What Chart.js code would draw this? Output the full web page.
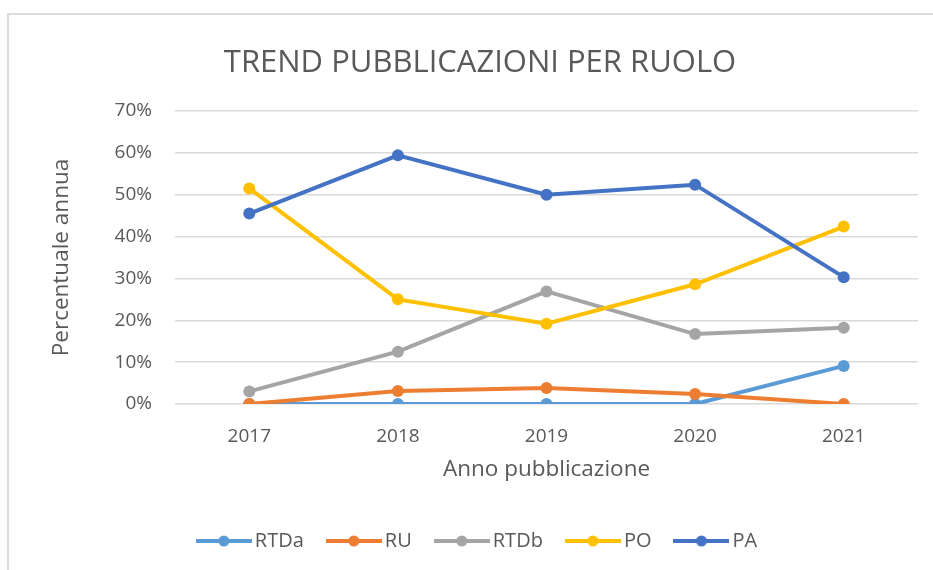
<!DOCTYPE html>
<html lang="it">
<head>
<meta charset="utf-8">
<title>Trend pubblicazioni per ruolo</title>
<script src="https://cdn.jsdelivr.net/npm/chart.js@4/dist/chart.umd.min.js"></script>
<style>
    html, body { margin: 0; padding: 0; background: #fff; overflow: hidden; }
    #wrap { position: relative; width: 933px; height: 570px; }
    #cornice {
        position: absolute; left: 7px; top: 13px; width: 1000px; height: 1000px;
        border: 2px solid #dcdcdc; box-sizing: border-box;
    }
    #trendChart { position: absolute; left: 0; top: 0; }
</style>
</head>
<body>
<div id="wrap">
    <div id="cornice"></div>
    <canvas id="trendChart" width="933" height="570"></canvas>
</div>
<script>
// Dati - percentuale annua di pubblicazioni per ruolo
const anni = ['2017', '2018', '2019', '2020', '2021'];
const ruoli = ['RTDa', 'RU', 'RTDb', 'PO', 'PA'];
const rtda = [0, 0, 0, 0, 9.1];
const ru = [0, 3.1, 3.8, 2.4, 0];
const rtdb = [3.0, 12.5, 26.9, 16.7, 18.2];
const po = [51.5, 25.0, 19.2, 28.6, 42.4];
const pa = [45.5, 59.4, 50.0, 52.4, 30.3];
const tickPercentuali = [0, 10, 20, 30, 40, 50, 60, 70];

const colori = ['#5b9bd5', '#ed7d31', '#a5a5a5', '#ffc000', '#4472c4'];
const serie = [rtda, ru, rtdb, po, pa];
const grigioTesto = '#595959';

Chart.defaults.font.family = "'Open Sans', sans-serif";
Chart.defaults.color = grigioTesto;

// Simbolo della legenda: linea con il punto al centro
function simboloLegenda(colore) {
    const c = document.createElement('canvas');
    c.width = 56;
    c.height = 14;
    const g = c.getContext('2d');
    g.strokeStyle = colore;
    g.lineWidth = 4;
    g.beginPath();
    g.moveTo(0, 7);
    g.lineTo(56, 7);
    g.stroke();
    g.fillStyle = colore;
    g.beginPath();
    g.arc(28, 7, 5.5, 0, Math.PI * 2);
    g.fill();
    return c;
}
const simboli = colori.map(simboloLegenda);

const datasets = ruoli.map((nome, i) => ({
    label: nome,
    data: serie[i],
    borderColor: colori[i],
    backgroundColor: colori[i],
    pointBackgroundColor: colori[i],
    pointBorderWidth: 0,
    pointRadius: 6,
    borderWidth: 4,
    tension: 0,
    fill: false,
    // l'ultima serie va disegnata sopra le altre
    order: ruoli.length - i
}));

new Chart(document.getElementById('trendChart'), {
    type: 'line',
    data: { labels: anni, datasets: datasets },
    options: {
        responsive: false,
        animation: false,
        layout: { padding: { left: 42, right: 15, top: 0, bottom: 9 } },
        plugins: {
            title: {
                display: true,
                text: 'TREND PUBBLICAZIONI PER RUOLO',
                color: grigioTesto,
                font: { size: 31, weight: 'normal' },
                padding: { top: 44.5, bottom: 29.3 }
            },
            legend: {
                position: 'bottom',
                labels: {
                    usePointStyle: true,
                    pointStyleWidth: 42,
                    padding: 29,
                    color: grigioTesto,
                    font: { size: 20 },
                    sort: (a, b) => a.datasetIndex - b.datasetIndex,
                    generateLabels: function(chart) {
                        const base = Chart.defaults.plugins.legend.labels.generateLabels(chart);
                        return base.map(item => {
                            item.pointStyle = simboli[item.datasetIndex];
                            return item;
                        });
                    }
                }
            },
            tooltip: { enabled: false }
        },
        scales: {
            x: {
                offset: true,
                grid: { display: false },
                border: { display: false },
                ticks: { padding: 13.6, font: { size: 19 }, color: grigioTesto },
                title: {
                    display: true,
                    text: 'Anno pubblicazione',
                    color: grigioTesto,
                    font: { size: 22.5 },
                    padding: { top: -5.5, bottom: 18.5 }
                }
            },
            y: {
                min: 0,
                max: 70,
                afterFit: function(scale) { scale.width = 133; },
                afterBuildTicks: function(scale) {
                    scale.ticks = tickPercentuali.map(v => ({ value: v }));
                },
                grid: { color: '#d9d9d9', lineWidth: 1.5, drawTicks: false },
                border: { display: false },
                ticks: {
                    padding: 23,
                    font: { size: 19 },
                    color: grigioTesto,
                    callback: function(value) { return value + '%'; }
                },
                title: {
                    display: true,
                    text: 'Percentuale annua',
                    color: grigioTesto,
                    font: { size: 22.5 },
                    padding: { top: 6.5, bottom: 4 }
                }
            }
        }
    }
});
</script>
</body>
</html>
